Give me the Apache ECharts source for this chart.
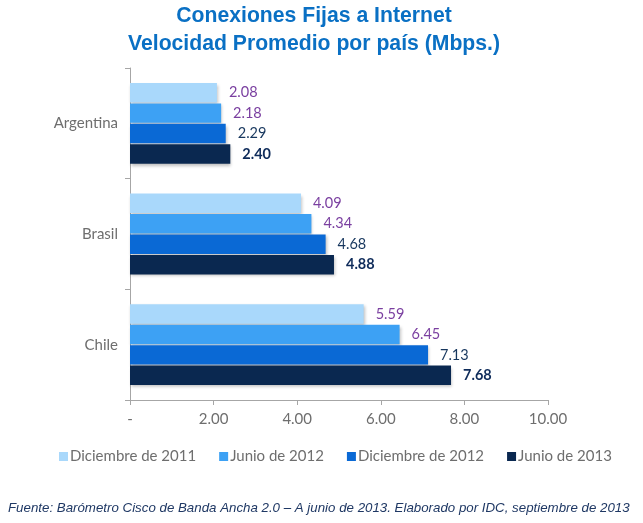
<!DOCTYPE html>
<html><head><meta charset="utf-8">
<script src="https://cdn.jsdelivr.net/npm/echarts@6/dist/echarts.min.js"></script>
<style>html,body{margin:0;padding:0;background:#fff}#c{width:643px;height:523px}</style>
</head><body><div id="c"></div>
<script>
const countries = ['Argentina', 'Brasil', 'Chile'];
const seriesNames = ['Diciembre de 2011', 'Junio de 2012', 'Diciembre de 2012', 'Junio de 2013'];
const dic2011 = [2.08, 4.09, 5.59];
const jun2012 = [2.18, 4.34, 6.45];
const dic2012 = [2.29, 4.68, 7.13];
const jun2013 = [2.40, 4.88, 7.68];
const xTicks = [0, 2, 4, 6, 8, 10];

const colors = ['#A9D8FB', '#3DA1F4', '#0A69D5', '#0A2850'];
const labelColors = ['#7A3FA0', '#7A3FA0', '#17375E', '#0E2B5A'];
const values = [dic2011, jun2012, dic2012, jun2013];

const chart = echarts.init(document.getElementById('c'));
chart.setOption({
  animation: false,
  title: {
    text: 'Conexiones Fijas a Internet\nVelocidad Promedio por país (Mbps.)',
    left: 309, textAlign: 'center', top: -3,
    textStyle: { fontFamily: 'Liberation Sans', fontWeight: 'bold', fontSize: 21.2, color: '#0A70C4', lineHeight: 28 }
  },
  graphic: [{
    type: 'text', left: 8, top: 502,
    style: { text: 'Fuente: Barómetro Cisco de Banda Ancha 2.0 – A junio de 2013. Elaborado por IDC, septiembre de 2013',
      font: 'italic 13.3px "Liberation Sans"', fill: '#1F3864' }
  }],
  legend: {
    data: seriesNames, left: 54, top: 444,
    itemWidth: 9, itemHeight: 9, itemGap: 23, icon: 'rect',
    textStyle: { fontFamily: 'Lato', fontSize: 15, color: '#6E6E6E', padding: [0, 0, 0, -3] }
  },
  grid: { left: 130, right: 95, top: 68, bottom: 123 },
  xAxis: {
    type: 'value', min: 0, max: 10, interval: 2,
    axisLine: { show: true, lineStyle: { color: '#A6A6A6' } },
    axisTick: { show: true, length: 5, lineStyle: { color: '#A6A6A6' } },
    splitLine: { show: false },
    axisLabel: { margin: 12, fontFamily: 'Lato', fontSize: 15, color: '#6E6E6E',
      formatter: v => v === 0 ? '-' : v.toFixed(2) }
  },
  yAxis: {
    type: 'category', data: countries, inverse: true,
    axisLine: { show: true, lineStyle: { color: '#A6A6A6' } },
    axisTick: { show: true, length: 5, lineStyle: { color: '#A6A6A6' } },
    axisLabel: { margin: 12, fontFamily: 'Lato', fontSize: 15, color: '#6E6E6E' }
  },
  series: seriesNames.map((n, i) => ({
    name: n, type: 'bar', data: values[i],
    barCategoryGap: '27%', barGap: '5%',
    itemStyle: { color: colors[i], shadowColor: 'rgba(0,0,0,0.25)', shadowBlur: 3, shadowOffsetX: 1, shadowOffsetY: 2 },
    label: { show: true, position: 'right', distance: 12, fontFamily: 'Lato', fontSize: 14.5,
      color: labelColors[i], fontWeight: i === 3 ? 'bold' : 'normal',
      formatter: p => p.value.toFixed(2) }
  }))
});
</script></body></html>
